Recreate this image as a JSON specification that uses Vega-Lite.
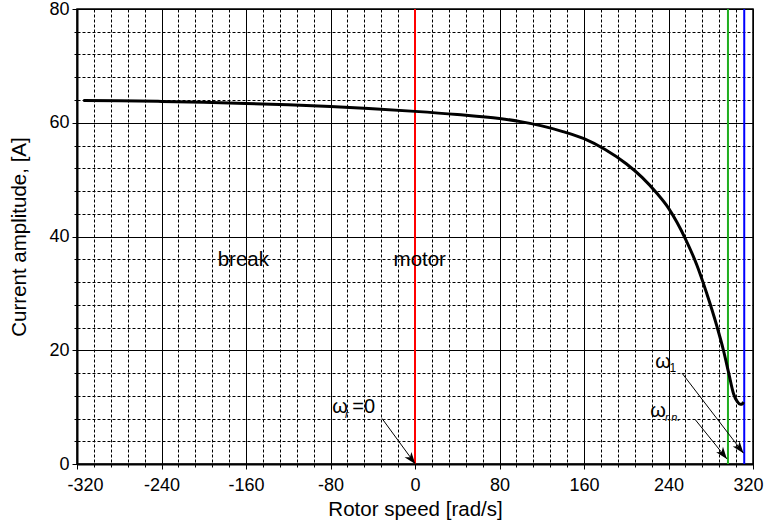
{
  "$schema": "https://vega.github.io/schema/vega-lite/v6.json",
  "autosize": "none",
  "width": 676,
  "height": 455,
  "padding": {"left": 77, "top": 9, "right": 13, "bottom": 60},
  "background": "white",
  "config": {
    "view": {"stroke": "black", "strokeWidth": 1.5},
    "font": "Liberation Sans",
    "text": {"font": "Liberation Sans", "color": "black"}
  },
  "datasets": {
    "curve": [
      {"speed": -314, "current": 63.9},
      {"speed": -280, "current": 63.85},
      {"speed": -240, "current": 63.75},
      {"speed": -200, "current": 63.6},
      {"speed": -160, "current": 63.4},
      {"speed": -120, "current": 63.15},
      {"speed": -80, "current": 62.85},
      {"speed": -40, "current": 62.45},
      {"speed": 0, "current": 62.0},
      {"speed": 40, "current": 61.45},
      {"speed": 80, "current": 60.75},
      {"speed": 100, "current": 60.2},
      {"speed": 120, "current": 59.45},
      {"speed": 140, "current": 58.45},
      {"speed": 160, "current": 57.2},
      {"speed": 180, "current": 55.3},
      {"speed": 200, "current": 52.8},
      {"speed": 215, "current": 50.4},
      {"speed": 229, "current": 47.6},
      {"speed": 240, "current": 45.0},
      {"speed": 248, "current": 42.5},
      {"speed": 256, "current": 39.6},
      {"speed": 267, "current": 34.9},
      {"speed": 276, "current": 30.1},
      {"speed": 286, "current": 24.1},
      {"speed": 292, "current": 20.0},
      {"speed": 297, "current": 16.0},
      {"speed": 301.5, "current": 12.4},
      {"speed": 305, "current": 11.0},
      {"speed": 308, "current": 10.5},
      {"speed": 309.5, "current": 10.5},
      {"speed": 311, "current": 10.9}
    ],
    "vlines": [
      {"speed": 0, "line": "zero"},
      {"speed": 296.3, "line": "rated"},
      {"speed": 311.7, "line": "sync"}
    ],
    "arrows": [
      {"x0": -31.2, "y0": 8.0, "x1": 0.3, "y1": 0.0},
      {"x0": 252.7, "y0": 16.0, "x1": 311.0, "y1": 1.9},
      {"x0": 265.3, "y0": 7.8, "x1": 295.3, "y1": 0.9}
    ],
    "regions": [
      {"speed": -162.5, "current": 35.8, "label": "break"},
      {"speed": 4.5, "current": 35.8, "label": "motor"}
    ],
    "omegas": [
      {"speed": -78.3, "current": 8.9, "label": "ω"},
      {"speed": 227.5, "current": 16.8, "label": "ω"},
      {"speed": 222.8, "current": 8.2, "label": "ω"}
    ],
    "subsItalic": [
      {"speed": -66.3, "current": 8.1, "label": "r"},
      {"speed": 236.6, "current": 7.6, "label": "r.n."}
    ],
    "subsPlain": [
      {"speed": 241.0, "current": 16.1, "label": "1"}
    ],
    "equals": [
      {"speed": -59.3, "current": 8.9, "label": "=0"}
    ]
  },
  "layer": [
    {
      "data": {"name": "curve"},
      "mark": {"type": "point", "opacity": 0},
      "encoding": {
        "x": {"field": "speed", "type": "quantitative",
          "scale": {"domain": [-320, 320], "nice": false, "zero": false},
          "axis": {"orient": "bottom", "values": [-304,-288,-272,-256,-224,-208,-192,-176,-144,-128,-112,-96,-64,-48,-32,-16,16,32,48,64,96,112,128,144,176,192,208,224,256,272,288,304],
            "grid": true, "gridColor": "black", "gridOpacity": 1, "gridWidth": 1, "gridDash": [3, 2],
            "labels": false, "domain": false, "ticks": true, "tickSize": 3, "tickColor": "black", "title": null}},
        "y": {"field": "current", "type": "quantitative",
          "scale": {"domain": [0, 80], "nice": false, "zero": false},
          "axis": {"orient": "left", "values": [4,8,12,16,24,28,32,36,44,48,52,56,64,68,72,76],
            "grid": true, "gridColor": "black", "gridOpacity": 1, "gridWidth": 1, "gridDash": [3, 2],
            "labels": false, "domain": false, "ticks": true, "tickSize": 3, "tickColor": "black", "title": null}}
      }
    },
    {
      "data": {"name": "vlines"},
      "mark": {"type": "rule", "strokeWidth": 2},
      "encoding": {
        "x": {"field": "speed", "type": "quantitative",
          "scale": {"domain": [-320, 320], "nice": false, "zero": false}, "axis": null},
        "color": {"field": "line", "type": "nominal",
          "scale": {"domain": ["zero", "rated", "sync"], "range": ["#ff0000", "#1fae1f", "#0000ff"]},
          "legend": null}
      }
    },
    {
      "data": {"name": "curve"},
      "mark": {"type": "line", "color": "black", "strokeWidth": 3, "interpolate": "monotone"},
      "encoding": {
        "x": {"field": "speed", "type": "quantitative",
          "scale": {"domain": [-320, 320], "nice": false, "zero": false},
          "axis": {"orient": "bottom", "values": [-320,-240,-160,-80,0,80,160,240,320],
            "labelExpr": "'' + datum.value",
            "grid": true, "gridColor": "black", "gridOpacity": 1, "gridWidth": 1,
            "domainColor": "black", "domainWidth": 2, "tickColor": "black", "tickSize": 5, "tickWidth": 1,
            "labelFont": "Liberation Sans", "labelFontSize": 18, "labelColor": "black", "labelPadding": 7,
            "labelFlush": true, "labelFlushOffset": 10, "labelOverlap": false, "labelBound": false,
            "title": "Rotor speed [rad/s]", "titleFont": "Liberation Sans", "titleFontSize": 20.5,
            "titleFontWeight": "normal", "titleColor": "black", "titlePadding": 5}},
        "y": {"field": "current", "type": "quantitative",
          "scale": {"domain": [0, 80], "nice": false, "zero": false},
          "axis": {"orient": "left", "values": [0, 20, 40, 60, 80],
            "grid": true, "gridColor": "black", "gridOpacity": 1, "gridWidth": 1,
            "domainColor": "black", "domainWidth": 2, "tickColor": "black", "tickSize": 5, "tickWidth": 1,
            "labelFont": "Liberation Sans", "labelFontSize": 18, "labelColor": "black", "labelPadding": 3,
            "labelFlush": false, "labelOverlap": false, "labelBound": false,
            "title": "Current amplitude, [A]", "titleFont": "Liberation Sans", "titleFontSize": 20.5,
            "titleFontWeight": "normal", "titleColor": "black", "titlePadding": 19}}
      }
    },
    {
      "data": {"name": "arrows"},
      "mark": {"type": "rule", "color": "black", "strokeWidth": 1},
      "encoding": {
        "x": {"field": "x0", "type": "quantitative", "scale": {"domain": [-320, 320], "nice": false, "zero": false}, "axis": null},
        "y": {"field": "y0", "type": "quantitative", "scale": {"domain": [0, 80], "nice": false, "zero": false}, "axis": null},
        "x2": {"field": "x1"},
        "y2": {"field": "y1"}
      }
    },
    {
      "data": {"name": "arrows"},
      "mark": {"type": "point", "shape": "M0,0 L-0.4,1.1 L0,0.8 L0.4,1.1 Z", "filled": true, "color": "black", "opacity": 1, "size": 470, "angle": 142, "strokeWidth": 0},
      "encoding": {
        "x": {"field": "x1", "type": "quantitative", "scale": {"domain": [-320, 320], "nice": false, "zero": false}, "axis": null},
        "y": {"field": "y1", "type": "quantitative", "scale": {"domain": [0, 80], "nice": false, "zero": false}, "axis": null}
      }
    },
    {
      "data": {"name": "regions"},
      "mark": {"type": "text", "fontSize": 20.5, "align": "center", "baseline": "middle"},
      "encoding": {
        "x": {"field": "speed", "type": "quantitative", "scale": {"domain": [-320, 320], "nice": false, "zero": false}, "axis": null},
        "y": {"field": "current", "type": "quantitative", "scale": {"domain": [0, 80], "nice": false, "zero": false}, "axis": null},
        "text": {"field": "label"}
      }
    },
    {
      "data": {"name": "omegas"},
      "mark": {"type": "text", "fontSize": 20, "align": "left", "baseline": "alphabetic"},
      "encoding": {
        "x": {"field": "speed", "type": "quantitative", "scale": {"domain": [-320, 320], "nice": false, "zero": false}, "axis": null},
        "y": {"field": "current", "type": "quantitative", "scale": {"domain": [0, 80], "nice": false, "zero": false}, "axis": null},
        "text": {"field": "label"}
      }
    },
    {
      "data": {"name": "subsItalic"},
      "mark": {"type": "text", "fontSize": 11, "fontStyle": "italic", "align": "left", "baseline": "alphabetic"},
      "encoding": {
        "x": {"field": "speed", "type": "quantitative", "scale": {"domain": [-320, 320], "nice": false, "zero": false}, "axis": null},
        "y": {"field": "current", "type": "quantitative", "scale": {"domain": [0, 80], "nice": false, "zero": false}, "axis": null},
        "text": {"field": "label"}
      }
    },
    {
      "data": {"name": "subsPlain"},
      "mark": {"type": "text", "fontSize": 12, "align": "left", "baseline": "alphabetic"},
      "encoding": {
        "x": {"field": "speed", "type": "quantitative", "scale": {"domain": [-320, 320], "nice": false, "zero": false}, "axis": null},
        "y": {"field": "current", "type": "quantitative", "scale": {"domain": [0, 80], "nice": false, "zero": false}, "axis": null},
        "text": {"field": "label"}
      }
    },
    {
      "data": {"name": "equals"},
      "mark": {"type": "text", "fontSize": 20, "align": "left", "baseline": "alphabetic"},
      "encoding": {
        "x": {"field": "speed", "type": "quantitative", "scale": {"domain": [-320, 320], "nice": false, "zero": false}, "axis": null},
        "y": {"field": "current", "type": "quantitative", "scale": {"domain": [0, 80], "nice": false, "zero": false}, "axis": null},
        "text": {"field": "label"}
      }
    }
  ],
  "resolve": {"scale": {"x": "independent", "y": "independent"}, "axis": {"x": "independent", "y": "independent"}}
}
